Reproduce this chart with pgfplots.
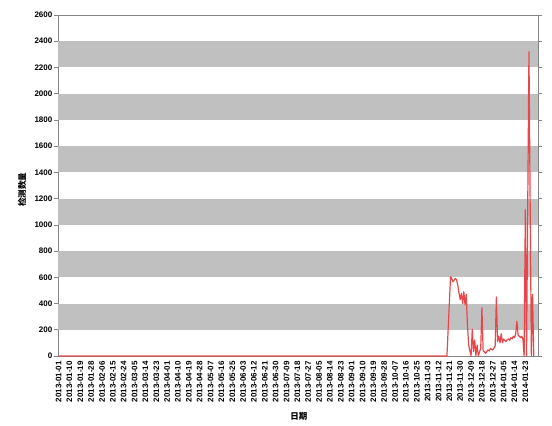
\documentclass[border=0pt]{standalone}
\usepackage{pgfplots}
\pgfplotsset{compat=1.18}
\usepackage{fontspec}
\setmainfont{Liberation Sans}
\newfontfamily\cjk{Noto Sans CJK SC}
\definecolor{band}{HTML}{C0C0C0}
\definecolor{frame}{HTML}{858585}
\definecolor{dline}{HTML}{E8474A}
\begin{document}
\begin{tikzpicture}[x=1pt,y=1pt]
\path[use as bounding box] (0,0) rectangle (552,426);
\begin{axis}[
  at={(58pt,70pt)}, anchor=south west,
  scale only axis, width=480pt, height=341pt,
  xmin=-0.5, xmax=397.5, ymin=0, ymax=2600,
  ytick={0,200,...,2600},
  xtick={0,9,...,387},
  xticklabels={2013-01-01,2013-01-10,2013-01-19,2013-01-28,2013-02-06,2013-02-15,2013-02-24,2013-03-05,2013-03-14,2013-03-23,2013-04-01,2013-04-10,2013-04-19,2013-04-28,2013-05-07,2013-05-16,2013-05-25,2013-06-03,2013-06-12,2013-06-21,2013-06-30,2013-07-09,2013-07-18,2013-07-27,2013-08-05,2013-08-14,2013-08-23,2013-09-01,2013-09-10,2013-09-19,2013-09-28,2013-10-07,2013-10-16,2013-10-25,2013-11-03,2013-11-12,2013-11-21,2013-11-30,2013-12-09,2013-12-18,2013-12-27,2014-01-05,2014-01-14,2014-01-23},
  axis line style={frame, line width=0.8pt},
  tick style={frame, line width=0.6pt},
  tick align=outside, major tick length=4pt,
  xtick style={draw=none},
  ticklabel style={font=\bfseries\fontsize{8}{9}\selectfont, text=black},
  /pgf/number format/assume math mode=true,
  /pgf/number format/1000 sep={},
  xticklabel style={rotate=90, anchor=east, inner sep=1pt},
  yticklabel style={inner sep=1.5pt},
  xlabel={\cjk\bfseries 日期},
  ylabel={\cjk\bfseries 检测数量},
  label style={font=\fontsize{8.5}{10}\selectfont},
  xlabel style={at={(axis description cs:0.502,-0.176)}, anchor=center},
  ylabel style={at={(axis description cs:-0.075,0.487)}, anchor=center},
  clip=false,
]
\fill[band] (axis cs:-0.5,200) rectangle (axis cs:397.5,400);
\fill[band] (axis cs:-0.5,600) rectangle (axis cs:397.5,800);
\fill[band] (axis cs:-0.5,1000) rectangle (axis cs:397.5,1200);
\fill[band] (axis cs:-0.5,1400) rectangle (axis cs:397.5,1600);
\fill[band] (axis cs:-0.5,1800) rectangle (axis cs:397.5,2000);
\fill[band] (axis cs:-0.5,2200) rectangle (axis cs:397.5,2400);
\addplot[dline, line width=1.2pt, mark=none, line join=round] coordinates {
(0,0) (322,0) (325,605) (326,590) (327,566) (328,580) (329,590) (330,580)
(331,540) (332,480) (333,430) (334,478) (335,402) (336,490) (337,390) (338,470)
(339,236) (340,84) (341,40) (342,0) (343,205) (344,33) (345,122) (346,5)
(347,84) (348,0) (349,30) (350,58) (351,368) (352,40) (353,33) (354,20)
(355,33) (356,46) (357,38) (358,58) (359,50) (360,46) (361,60) (362,80)
(363,450) (364,109) (365,150) (366,100) (367,170) (368,100) (369,130) (370,120)
(371,110) (372,125) (373,130) (374,120) (375,140) (376,130) (377,150) (378,140)
(379,170) (380,265) (381,160) (382,150) (383,140) (384,150) (385,130) (386,0)
(387,1115) (388,0) (390,2320) (392,0) (393,470) (394,0)
};
\end{axis}
\end{tikzpicture}
\end{document}
